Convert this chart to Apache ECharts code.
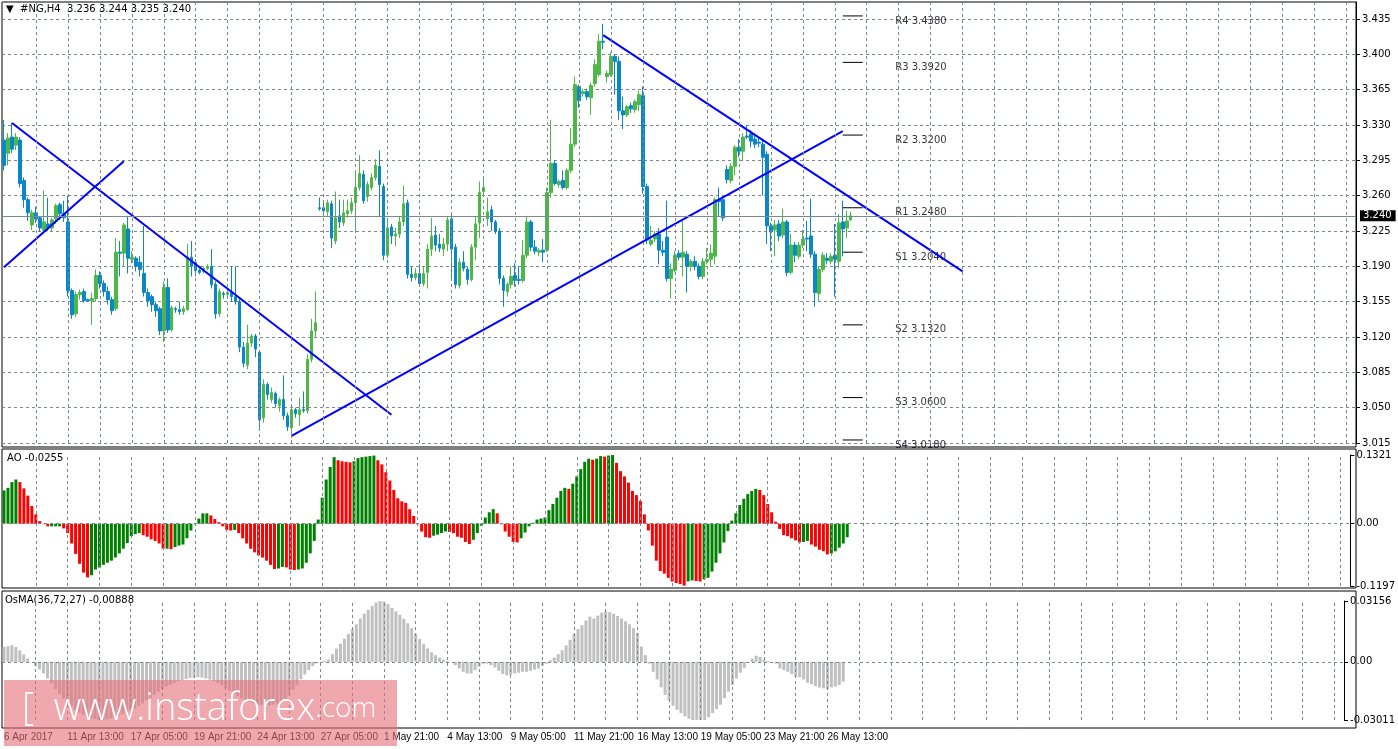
<!DOCTYPE html>
<html>
<head>
<meta charset="utf-8">
<script src="https://cdn.jsdelivr.net/npm/echarts@6/dist/echarts.min.js"></script>
<style>html,body{margin:0;padding:0;background:#fff}#chart{width:1398px;height:749px}</style>
</head>
<body>
<div id="chart"></div>
<script>
// time labels, one every 16 bars (H4)
var timeLabels = ['6 Apr 2017', '11 Apr 13:00', '17 Apr 05:00', '19 Apr 21:00', '24 Apr 13:00', '27 Apr 05:00',
    '1 May 21:00', '4 May 13:00', '9 May 05:00', '11 May 21:00', '16 May 13:00', '19 May 05:00', '23 May 21:00', '26 May 13:00'];
var slotCount = 339;

// [open, close, low, high]
var candles = [
    [3.315,3.290,3.285,3.335],[3.302,3.317,3.290,3.322],[3.318,3.306,3.302,3.332],[3.310,3.318,3.305,3.322],
    [3.315,3.272,3.268,3.318],[3.275,3.256,3.248,3.278],[3.256,3.243,3.235,3.258],[3.231,3.243,3.226,3.246],
    [3.243,3.237,3.233,3.249],[3.238,3.228,3.224,3.240],[3.226,3.234,3.222,3.265],[3.232,3.228,3.225,3.258],
    [3.228,3.236,3.224,3.238],[3.237,3.250,3.232,3.252],[3.251,3.242,3.236,3.253],[3.242,3.238,3.234,3.255],
    [3.234,3.166,3.160,3.260],[3.166,3.142,3.138,3.168],[3.143,3.162,3.140,3.165],[3.162,3.164,3.157,3.167],
    [3.165,3.156,3.154,3.168],[3.157,3.156,3.155,3.158],[3.156,3.158,3.132,3.164],[3.158,3.181,3.155,3.187],
    [3.181,3.173,3.168,3.185],[3.173,3.165,3.160,3.176],[3.165,3.157,3.152,3.170],[3.157,3.146,3.142,3.160],
    [3.148,3.204,3.146,3.218],[3.204,3.203,3.180,3.215],[3.203,3.231,3.190,3.233],[3.227,3.198,3.183,3.240],
    [3.197,3.199,3.193,3.205],[3.198,3.190,3.185,3.200],[3.194,3.187,3.180,3.200],[3.183,3.164,3.160,3.230],
    [3.164,3.156,3.150,3.168],[3.160,3.152,3.145,3.162],[3.152,3.146,3.140,3.155],[3.148,3.126,3.122,3.150],
    [3.126,3.169,3.115,3.175],[3.169,3.127,3.124,3.178],[3.127,3.149,3.125,3.151],[3.148,3.147,3.144,3.150],
    [3.147,3.145,3.142,3.155],[3.145,3.148,3.142,3.151],[3.147,3.199,3.146,3.212],[3.199,3.190,3.180,3.215],
    [3.194,3.186,3.180,3.197],[3.186,3.184,3.182,3.188],[3.185,3.188,3.183,3.190],[3.188,3.190,3.186,3.192],
    [3.190,3.172,3.168,3.207],[3.172,3.143,3.138,3.175],[3.143,3.165,3.140,3.168],[3.163,3.162,3.158,3.165],
    [3.162,3.164,3.160,3.166],[3.165,3.160,3.155,3.190],[3.160,3.155,3.152,3.190],[3.155,3.110,3.105,3.158],
    [3.110,3.094,3.090,3.115],[3.092,3.114,3.088,3.132],[3.114,3.121,3.110,3.123],[3.121,3.108,3.100,3.123],
    [3.105,3.038,3.030,3.107],[3.040,3.073,3.035,3.078],[3.073,3.063,3.058,3.075],[3.058,3.065,3.055,3.070],
    [3.064,3.054,3.050,3.066],[3.052,3.058,3.046,3.060],[3.058,3.042,3.038,3.082],[3.042,3.031,3.027,3.045],
    [3.030,3.048,3.020,3.053],[3.048,3.044,3.040,3.050],[3.043,3.048,3.032,3.060],[3.048,3.047,3.045,3.066],
    [3.047,3.098,3.044,3.103],[3.098,3.126,3.095,3.138],[3.126,3.134,3.120,3.165],[3.248,3.247,3.245,3.258],
    [3.248,3.245,3.240,3.254],[3.244,3.253,3.240,3.256],[3.252,3.218,3.208,3.255],[3.215,3.238,3.212,3.264],
    [3.240,3.234,3.228,3.256],[3.233,3.243,3.230,3.256],[3.242,3.245,3.238,3.256],[3.245,3.253,3.242,3.258],
    [3.253,3.268,3.225,3.284],[3.268,3.282,3.265,3.300],[3.281,3.255,3.252,3.285],[3.259,3.271,3.254,3.274],
    [3.268,3.278,3.265,3.282],[3.278,3.290,3.275,3.296],[3.289,3.271,3.240,3.305],[3.269,3.201,3.196,3.272],
    [3.201,3.228,3.198,3.235],[3.229,3.220,3.212,3.232],[3.220,3.222,3.210,3.228],[3.222,3.234,3.218,3.240],
    [3.234,3.252,3.230,3.270],[3.253,3.182,3.178,3.256],[3.182,3.179,3.175,3.190],[3.179,3.183,3.176,3.188],
    [3.183,3.173,3.170,3.192],[3.173,3.183,3.170,3.190],[3.184,3.207,3.168,3.212],[3.207,3.220,3.200,3.238],
    [3.221,3.211,3.205,3.230],[3.212,3.208,3.204,3.222],[3.207,3.212,3.200,3.218],[3.212,3.236,3.205,3.240],
    [3.237,3.207,3.178,3.242],[3.209,3.172,3.168,3.212],[3.171,3.194,3.168,3.198],[3.194,3.188,3.185,3.205],
    [3.187,3.177,3.172,3.190],[3.177,3.209,3.175,3.212],[3.209,3.232,3.196,3.240],[3.233,3.263,3.218,3.274],
    [3.264,3.268,3.260,3.278],[3.237,3.244,3.230,3.258],[3.246,3.234,3.225,3.250],[3.234,3.225,3.222,3.236],
    [3.225,3.178,3.172,3.228],[3.178,3.166,3.150,3.181],[3.165,3.172,3.160,3.174],[3.172,3.180,3.168,3.190],
    [3.181,3.176,3.170,3.193],[3.177,3.176,3.172,3.190],[3.176,3.201,3.174,3.216],[3.201,3.234,3.198,3.240],
    [3.234,3.209,3.205,3.236],[3.209,3.205,3.202,3.216],[3.204,3.206,3.200,3.208],[3.206,3.204,3.194,3.217],
    [3.206,3.263,3.204,3.268],[3.263,3.292,3.258,3.335],[3.292,3.272,3.270,3.295],[3.271,3.274,3.268,3.276],
    [3.275,3.268,3.266,3.285],[3.268,3.285,3.266,3.287],[3.285,3.311,3.282,3.327],[3.311,3.370,3.308,3.378],
    [3.368,3.354,3.347,3.370],[3.361,3.363,3.358,3.366],[3.363,3.358,3.355,3.366],[3.357,3.369,3.340,3.372],
    [3.371,3.390,3.368,3.395],[3.380,3.413,3.378,3.420],[3.413,3.412,3.405,3.430],[3.378,3.381,3.372,3.384],
    [3.380,3.398,3.378,3.402],[3.398,3.393,3.360,3.400],[3.393,3.344,3.335,3.398],[3.344,3.340,3.326,3.358],
    [3.340,3.348,3.338,3.350],[3.349,3.346,3.342,3.352],[3.345,3.353,3.342,3.355],[3.350,3.360,3.344,3.364],
    [3.359,3.269,3.262,3.368],[3.269,3.216,3.212,3.272],[3.212,3.216,3.210,3.230],[3.217,3.222,3.214,3.225],
    [3.222,3.206,3.192,3.228],[3.206,3.204,3.200,3.215],[3.219,3.178,3.175,3.255],[3.178,3.187,3.158,3.193],
    [3.186,3.201,3.184,3.205],[3.203,3.199,3.196,3.206],[3.199,3.204,3.180,3.235],[3.202,3.190,3.164,3.205],
    [3.190,3.195,3.185,3.197],[3.195,3.190,3.186,3.200],[3.190,3.180,3.177,3.193],[3.180,3.195,3.177,3.198],
    [3.195,3.197,3.192,3.208],[3.197,3.203,3.190,3.212],[3.200,3.256,3.192,3.258],[3.256,3.254,3.240,3.268],
    [3.256,3.238,3.235,3.260],[3.286,3.276,3.272,3.290],[3.275,3.289,3.272,3.292],[3.289,3.308,3.280,3.310],
    [3.308,3.304,3.298,3.316],[3.304,3.318,3.295,3.322],[3.319,3.318,3.316,3.330],[3.321,3.314,3.308,3.325],
    [3.316,3.311,3.307,3.320],[3.313,3.312,3.308,3.318],[3.311,3.298,3.260,3.316],[3.301,3.230,3.212,3.304],
    [3.230,3.224,3.205,3.233],[3.226,3.231,3.200,3.236],[3.232,3.220,3.215,3.236],[3.221,3.234,3.218,3.247],
    [3.234,3.184,3.180,3.236],[3.184,3.211,3.182,3.222],[3.211,3.201,3.194,3.214],[3.200,3.211,3.197,3.214],
    [3.211,3.217,3.208,3.226],[3.218,3.217,3.205,3.235],[3.220,3.202,3.198,3.257],[3.202,3.164,3.150,3.205],
    [3.163,3.187,3.155,3.190],[3.187,3.201,3.184,3.204],[3.198,3.196,3.192,3.203],[3.195,3.200,3.192,3.203],
    [3.201,3.197,3.160,3.232],[3.195,3.233,3.188,3.242],[3.234,3.227,3.200,3.255],[3.228,3.235,3.218,3.245],
    [3.236,3.240,3.235,3.244]
];

// Awesome Oscillator (x0.001)
var aoValues = [
    64,69,80,85,80,68,54,34,18,5,-1,-5,-5,-5,-5,-9,-18,-38,-58,-77,-94,-103,-99,-88,-84,-79,-75,-71,-65,-57,
    -48,-37,-24,-20,-18,-22,-25,-30,-33,-38,-48,-48,-49,-45,-42,-40,-28,-13,-1,10,20,20,16,9,3,-5,-12,-13,-12,-18,
    -28,-38,-48,-55,-61,-65,-71,-79,-87,-86,-83,-84,-88,-89,-88,-86,-75,-57,-33,8,50,85,109,128,122,120,119,118,120,126,
    128,129,130,131,122,114,99,83,65,49,43,40,28,15,-1,-15,-26,-27,-23,-21,-18,-15,-16,-18,-25,-27,-35,-39,-31,-18,
    -4,12,22,28,20,-1,-15,-25,-35,-36,-28,-17,-5,2,8,10,12,26,38,50,63,69,67,77,91,105,119,125,123,125,
    130,129,131,132,117,101,91,79,63,55,44,18,-13,-42,-71,-91,-96,-104,-111,-114,-116,-119,-111,-109,-110,-111,-107,-104,-92,-75,
    -57,-36,-14,6,20,36,48,57,63,67,65,55,38,22,4,-10,-22,-24,-28,-32,-36,-35,-33,-40,-44,-50,-53,-59,-57,-53,
    -46,-38,-26
];

// OsMA(36,72,27) (x0.0001)
var osmaValues = [
    77,82,86,77,60,39,17,0,-22,-39,-60,-86,-111,-140,-165,-190,-210,-230,-248,-262,-275,-285,-292,-297,-300,-300,-298,-294,-288,-280,
    -270,-260,-250,-240,-228,-215,-200,-185,-170,-155,-140,-128,-118,-108,-100,-93,-88,-84,-82,-80,-82,-86,-92,-100,-110,-122,-136,-150,-165,-178,
    -190,-200,-208,-215,-220,-223,-225,-225,-222,-215,-205,-190,-170,-145,-118,-90,-65,-42,-22,-8,-2,7,12,40,69,94,120,145,170,195,
    225,250,270,290,308,316,313,300,280,262,244,224,200,175,145,118,92,70,50,35,22,12,5,0,-17,-34,-51,-60,-60,-43,
    -25,-9,-9,-17,-29,-46,-63,-70,-68,-60,-56,-51,-51,-46,-40,-34,-20,-9,9,22,40,60,85,115,145,170,190,215,
    235,225,240,255,262,258,250,238,225,210,195,175,150,80,35,-9,-51,-91,-132,-171,-200,-227,-248,-265,-282,-294,-303,-308,-308,-308,
    -287,-265,-245,-222,-188,-154,-120,-86,-56,-31,-5,17,32,26,12,5,0,-9,-34,-43,-51,-63,-77,-80,-91,-108,-116,-125,-132,-137,
    -142,-132,-128,-120,-103
];

// pivot levels
var pivotNames = ['R4', 'R3', 'R2', 'R1', 'S1', 'S2', 'S3', 'S4'];
var pivotValues = [3.4380, 3.3920, 3.3200, 3.2480, 3.2040, 3.1320, 3.0600, 3.0180];

// trend lines: [barIndex, price] pairs
var trendLines = [
    [[2, 3.332], [97, 3.043]],
    [[0, 3.189], [30, 3.294]],
    [[72, 3.022], [210, 3.324]],
    [[150, 3.419], [240, 3.185]]
];

var lastPrice = 3.240;

var categories = [];
for (var i = 0; i < slotCount; i++) {
    categories.push(i % 16 === 0 && timeLabels[i / 16] ? timeLabels[i / 16] : '');
}
var vGrid = [];
for (var k = 8; k < slotCount; k += 8) {
    vGrid.push({xAxis: k});
}
var gridStyle = {color: '#7d8794', type: [3, 3], width: 1};
var font = 'DejaVu Sans';

var upColor = '#4db848', downColor = '#0a87c8';

var series = [{
    type: 'candlestick', xAxisIndex: 0, yAxisIndex: 0, data: candles, barWidth: 3,
    itemStyle: {color: upColor, color0: downColor, borderColor: upColor, borderColor0: downColor, borderWidth: 1},
    markLine: {
        symbol: 'none', silent: true, animation: false,
        data: [{
            yAxis: lastPrice,
            lineStyle: {color: '#7d8794', type: 'solid', width: 1},
            label: {
                show: true, position: 'end', distance: 4, formatter: lastPrice.toFixed(3),
                color: '#fff', backgroundColor: '#000', padding: [1, 4, 0, 3], fontFamily: font, fontSize: 10
            }
        }].concat(vGrid.map(function (d) { return {xAxis: d.xAxis, lineStyle: gridStyle, label: {show: false}}; }))
    }
}];

trendLines.forEach(function (ln) {
    series.push({
        type: 'line', xAxisIndex: 0, yAxisIndex: 0, data: ln, symbol: 'none', silent: true,
        lineStyle: {color: '#0000ff', width: 2}, animation: false
    });
});

pivotValues.forEach(function (p) {
    series.push({
        type: 'line', xAxisIndex: 0, yAxisIndex: 0, symbol: 'none', silent: true, animation: false,
        data: [[210, p], [215, p]], lineStyle: {color: '#000', width: 1}
    });
});
series.push({
    type: 'scatter', xAxisIndex: 0, yAxisIndex: 0, symbolSize: 1, silent: true, animation: false,
    itemStyle: {color: 'rgba(0,0,0,0)'},
    data: pivotValues.map(function (p, n) { return {value: [223, p], name: pivotNames[n]}; }),
    label: {
        show: true, position: 'right', distance: 0, offset: [0, 5], color: '#000', fontFamily: font, fontSize: 10,
        formatter: function (d) { return d.name + ' ' + d.value[1].toFixed(4); }
    }
});

series.push({
    type: 'bar', xAxisIndex: 1, yAxisIndex: 1, barWidth: 3, animation: false,
    data: aoValues.map(function (v, n) {
        return {
            value: v / 1000,
            itemStyle: {color: (n > 0 && v < aoValues[n - 1]) ? '#ff0000' : '#008000'}
        };
    }),
    markLine: {
        symbol: 'none', silent: true, animation: false, label: {show: false},
        data: [{yAxis: 0}].concat(vGrid), lineStyle: gridStyle
    }
});
series.push({
    type: 'bar', xAxisIndex: 2, yAxisIndex: 2, barWidth: 3, animation: false,
    itemStyle: {color: '#c0c0c0'},
    data: osmaValues.map(function (v) { return v / 10000; }),
    markLine: {
        symbol: 'none', silent: true, animation: false, label: {show: false},
        data: [{yAxis: 0}].concat(vGrid), lineStyle: gridStyle
    }
});

function xAxis(idx, showLabels) {
    return {
        type: 'category', gridIndex: idx, data: categories, boundaryGap: true,
        axisLine: {show: false}, axisTick: {show: false}, splitLine: {show: false},
        axisLabel: {
            show: showLabels, interval: 0, margin: 12, color: '#000', fontFamily: 'Liberation Sans', fontSize: 10,
            align: 'left', hideOverlap: false
        }
    };
}

function yAxis(idx, opt) {
    var a = {
        type: 'value', gridIndex: idx, position: 'right', scale: true,
        axisLine: {show: true, lineStyle: {color: '#000'}},
        axisTick: {show: true, length: 4, lineStyle: {color: '#000'}},
        axisLabel: {color: '#000', fontFamily: font, fontSize: 10, margin: 6},
        splitLine: {show: false}
    };
    for (var key in opt) a[key] = opt[key];
    return a;
}

var chart = echarts.init(document.getElementById('chart'), null, {renderer: 'canvas'});
chart.setOption({
    animation: false,
    backgroundColor: '#fff',
    grid: [
        {left: 2, right: 42, top: 2, height: 441},
        {left: 2, right: 42, top: 455, height: 131},
        {left: 2, right: 42, top: 601, height: 119}
    ],
    xAxis: [xAxis(0, false), xAxis(1, false), xAxis(2, true)],
    yAxis: [
        yAxis(0, {
            min: 3.015, max: 3.4518, interval: 0.035,
            axisLabel: {color: '#000', fontFamily: font, fontSize: 10, margin: 6, showMaxLabel: false,
                formatter: function (v) { return v.toFixed(3); }},
            splitLine: {show: true, lineStyle: gridStyle}
        }),
        yAxis(1, {
            min: -0.1197, max: 0.1321,
            axisLabel: {color: '#000', fontFamily: font, fontSize: 10, margin: 6, customValues: [0.1321, 0, -0.1197],
                formatter: function (v) { return v === 0 ? '0.00' : v.toFixed(4); }},
            axisTick: {show: true, length: 4, customValues: [0.1321, 0, -0.1197], lineStyle: {color: '#000'}}
        }),
        yAxis(2, {
            min: -0.03011, max: 0.03156,
            axisLabel: {color: '#000', fontFamily: font, fontSize: 10, margin: 6, customValues: [0.03156, 0, -0.03011],
                formatter: function (v) { return v === 0 ? '0.00' : v.toFixed(5); }},
            axisTick: {show: true, length: 4, customValues: [0.03156, 0, -0.03011], lineStyle: {color: '#000'}}
        })
    ],
    series: series,
    graphic: [
        {type: 'rect', shape: {x: 2, y: 2, width: 1354, height: 445}, style: {fill: null, stroke: '#000', lineWidth: 1}, silent: true},
        {type: 'rect', shape: {x: 2, y: 449, width: 1354, height: 139}, style: {fill: null, stroke: '#000', lineWidth: 1}, silent: true},
        {type: 'rect', shape: {x: 2, y: 591, width: 1354, height: 137}, style: {fill: null, stroke: '#000', lineWidth: 1}, silent: true},
        {type: 'text', left: 6, top: 4, style: {text: '▼  #NG,H4  3.236 3.244 3.235 3.240', fill: '#000', font: '10px "DejaVu Sans"'}},
        {type: 'text', left: 7, top: 453, style: {text: 'AO -0.0255', fill: '#000', font: '10px "DejaVu Sans"'}},
        {type: 'text', left: 5, top: 595, style: {text: 'OsMA(36,72,27) -0.00888', fill: '#000', font: '10px "DejaVu Sans"'}},
        {type: 'rect', shape: {x: 4, y: 680, width: 393, height: 66}, style: {fill: 'rgba(226,110,120,0.6)'}, silent: true, z: 100},
        {type: 'text', left: 22, top: 690, z: 101, silent: true, style: {
            text: '[  www.instaforex{c|.com}  ]', fill: '#fff',
            font: '300 38px "Open Sans"',
            rich: {c: {fontSize: 28, fill: '#fff', fontFamily: 'Open Sans', fontWeight: 300}}
        }}
    ]
});
</script>
</body>
</html>
